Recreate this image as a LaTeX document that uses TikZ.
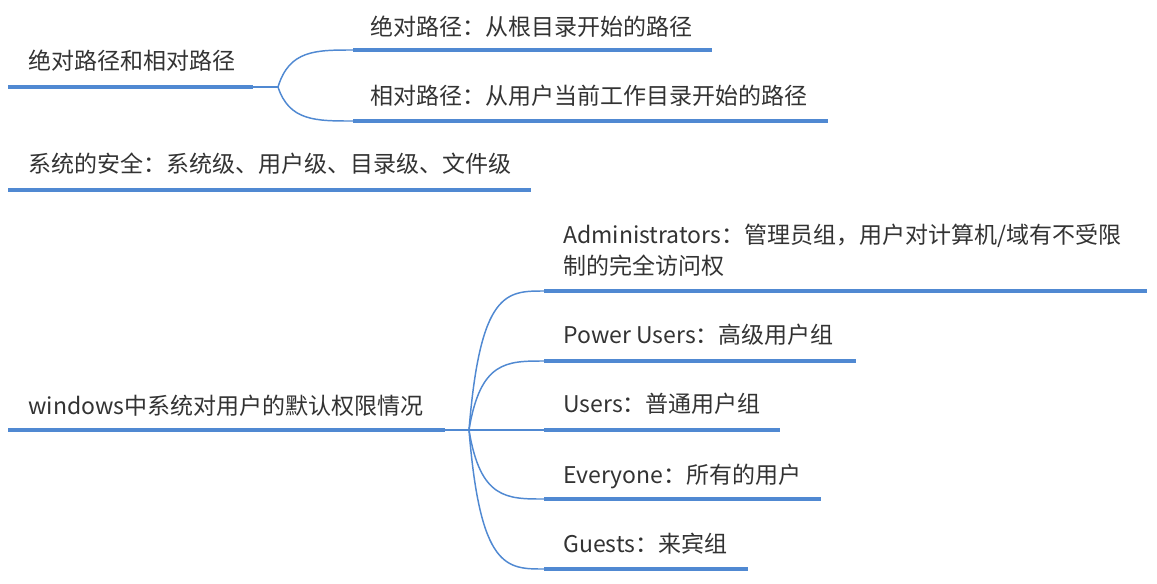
\documentclass[tikz,border=0pt]{standalone}
\usepackage{fontspec}
\setmainfont{Noto Sans CJK SC}
\usetikzlibrary{calc}
\definecolor{lineblue}{RGB}{80,137,210}
\definecolor{txt}{RGB}{51,51,51}
\begin{document}
\begin{tikzpicture}[x=0.75pt,y=-0.75pt,
  lbl/.style={anchor=base west,inner sep=0pt,font=\fontsize{17.25pt}{20pt}\selectfont,text=txt},
  uline/.style={draw=lineblue,line width=3.4pt},
  conn/.style={draw=lineblue,line width=1.1pt}]
\useasboundingbox[fill=white] (0,0) rectangle (1157,583);
% coordinates
\coordinate (r1s) at (8,87);   \coordinate (r1e) at (253,87);  \coordinate (h1) at (278,87);
\coordinate (b1s) at (353,50); \coordinate (b1e) at (712,50);
\coordinate (b2s) at (353,121);\coordinate (b2e) at (828,121);
\coordinate (r2s) at (8,190);  \coordinate (r2e) at (531,190);
\coordinate (r3s) at (8,430);  \coordinate (r3e) at (445,430); \coordinate (h2) at (469,430);
\coordinate (c1s) at (544,291);\coordinate (c1e) at (1147,291);
\coordinate (c2s) at (544,361);\coordinate (c2e) at (856,361);
\coordinate (c3s) at (544,430);\coordinate (c3e) at (780,430);
\coordinate (c4s) at (544,499);\coordinate (c4e) at (821,499);
\coordinate (c5s) at (544,569);\coordinate (c5e) at (748,569);
% underlines
\foreach \a/\b in {r1s/r1e,b1s/b1e,b2s/b2e,r2s/r2e,r3s/r3e,c1s/c1e,c2s/c2e,c3s/c3e,c4s/c4e,c5s/c5e}
  \draw[uline] (\a) -- (\b);
% connectors
\draw[conn] (r1e) -- (h1);
\draw[conn] (r3e) -- (h2);
\foreach \b in {b1s,b2s}
  \draw[conn] (h1) .. controls ($(h1 |- \b)!0.15!(\b)$) and ($(h1 |- \b)!0.5!(\b)$) .. (\b);
\foreach \b in {c1s,c2s,c3s,c4s,c5s}
  \draw[conn] (h2) .. controls ($(h2 |- \b)!0.15!(\b)$) and ($(h2 |- \b)!0.5!(\b)$) .. (\b);
% texts
\node[lbl] (t1) at (28,69) {绝对路径和相对路径};
\node[lbl] (t11) at (370,35) {绝对路径：从根目录开始的路径};
\node[lbl] (t12) at (370,104) {相对路径：从用户当前工作目录开始的路径};
\node[lbl] (t2) at (28,172) {系统的安全：系统级、用户级、目录级、文件级};
\node[lbl] (t3) at (28,414) {windows中系统对用户的默认权限情况};
\node[lbl] (a1) at (563,243) {Administrators：管理员组，用户对计算机/域有不受限};
\node[lbl] (a2) at (563,274) {制的完全访问权};
\node[lbl] (pu) at (563,343) {Power Users：高级用户组};
\node[lbl] (us) at (563,412) {Users：普通用户组};
\node[lbl] (ev) at (563,483) {Everyone：所有的用户};
\node[lbl] (gu) at (563,552) {Guests：来宾组};
\end{tikzpicture}
\end{document}
